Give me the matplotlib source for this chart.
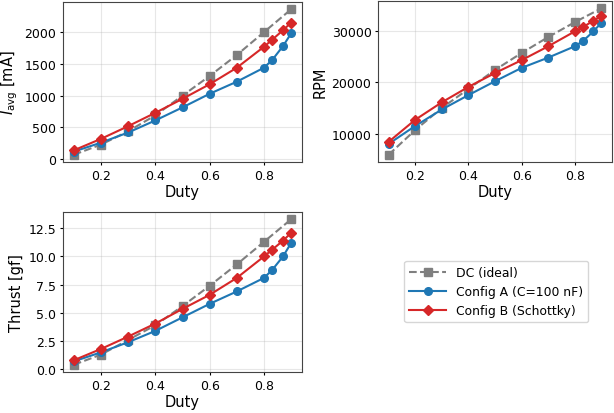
import numpy as np
import matplotlib
matplotlib.use("Agg")
import matplotlib.pyplot as plt

# duty points
duty_dc = [0.1, 0.2, 0.3, 0.4, 0.5, 0.6, 0.7, 0.8, 0.9]
duty_cfg = [0.1, 0.2, 0.3, 0.4, 0.5, 0.6, 0.7, 0.8, 0.83, 0.87, 0.9]

# average current [mA]
iavg_dc = [70, 230, 440, 690, 1000, 1310, 1640, 2000, 2360]
iavg_a = [120, 260, 420, 610, 815, 1030, 1220, 1440, 1560, 1780, 1980]
iavg_b = [140, 320, 520, 730, 950, 1180, 1440, 1770, 1880, 2030, 2150]

# speed [RPM]
rpm_dc = [5900, 10700, 15000, 18700, 22400, 25700, 28800, 31700, 34400]
rpm_a = [8000, 11500, 14700, 17500, 20200, 22800, 24800, 27000, 28000, 29900, 31600]
rpm_b = [8400, 12700, 16100, 19100, 21800, 24300, 27000, 29900, 30700, 32000, 32900]

# thrust [gf]
thrust_dc = [0.4, 1.3, 2.6, 3.9, 5.6, 7.4, 9.3, 11.3, 13.3]
thrust_a = [0.7, 1.5, 2.4, 3.4, 4.6, 5.8, 6.9, 8.1, 8.8, 10.0, 11.2]
thrust_b = [0.8, 1.8, 2.9, 4.05, 5.35, 6.6, 8.1, 10.0, 10.6, 11.4, 12.1]

labels = ["DC (ideal)", "Config A (C=100 nF)", "Config B (Schottky)"]

W, H = 614, 414
fig = plt.figure(figsize=(W / 100, H / 100), dpi=100)

def box(x0, y0, x1, y1):
    return [x0 / W, 1 - y1 / H, (x1 - x0) / W, (y1 - y0) / H]

ax1 = fig.add_axes(box(63, 3, 302, 163))
ax2 = fig.add_axes(box(378, 2, 612, 163))
ax3 = fig.add_axes(box(63, 213, 302, 373))
ax4 = fig.add_axes(box(330, 213, 612, 373))
ax4.axis("off")

panels = [
    (ax1, iavg_dc, iavg_a, iavg_b, r"$I_{\rm avg}$ [mA]"),
    (ax2, rpm_dc, rpm_a, rpm_b, "RPM"),
    (ax3, thrust_dc, thrust_a, thrust_b, "Thrust [gf]"),
]

for ax, ydc, ya, yb, ylab in panels:
    ax.plot(duty_dc, ydc, "--s", color="tab:gray", lw=1.5, ms=5.5, label=labels[0])
    ax.plot(duty_cfg, ya, "-o", color="tab:blue", lw=1.5, ms=5.5, label=labels[1])
    ax.plot(duty_cfg, yb, "-D", color="tab:red", lw=1.5, ms=5.5, label=labels[2])
    ax.set_xlabel("Duty", fontsize=10.5, labelpad=2)
    ax.set_ylabel(ylab, fontsize=10.5, labelpad=3)
    ax.tick_params(labelsize=9, length=2.5, pad=2.2)
    ax.grid(True, alpha=0.3)
    for s in ax.spines.values():
        s.set_color("#444444")

ax1.set_yticks([0, 500, 1000, 1500, 2000])
ax2.set_yticks([10000, 20000, 30000])

handles, labs = ax1.get_legend_handles_labels()
ax4.legend(handles, labs, loc="center", fontsize=8.9, handlelength=3,
           bbox_to_anchor=(0.589, 0.503))

fig.savefig("out.png", dpi=100)
